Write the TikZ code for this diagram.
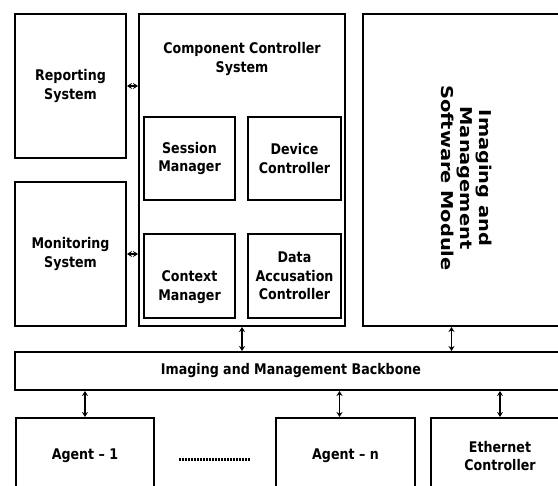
\documentclass[tikz,border=0pt]{standalone}
\usepackage{fontspec}
\setmainfont{DejaVu Sans}[FakeStretch=0.86]
\newfontfamily\rotfont{DejaVu Sans}[FakeStretch=1.19]
\usetikzlibrary{arrows.meta}

\begin{document}
\begin{tikzpicture}[x=1pt, y=-1pt, >={Stealth[length=5pt,width=6pt]},
	main/.style = {draw, line width=2pt, align=center, inner sep=0pt},
	lbl/.style = {align=center, inner sep=0pt},
	link/.style = {<->, line width=1.5pt},
	font=\fontsize{14.7}{18.3}\selectfont\bfseries]

		\path[use as bounding box, clip] (0,0) rectangle (558,486);

		\node[main, minimum width=111pt, minimum height=144pt] (rep) at (70.5,86) {Reporting\\System};
		\node[main, minimum width=111pt, minimum height=144pt] (mon) at (70.5,254) {Monitoring\\System};

		\node[main, minimum width=206pt, minimum height=312pt] (ccs) at (242,170) {};
		\node[lbl] (ccst) at (242,59) {Component Controller\\System};
		\node[main, minimum width=91pt, minimum height=83pt] (sm) at (189.5,158.5) {Session\\Manager};
		\node[main, minimum width=93pt, minimum height=83pt] (dc) at (294.5,158.5) {Device\\Controller};
		\node[main, minimum width=91pt, minimum height=84pt] (cm) at (189.5,276) {};
		\node[lbl] (cmt) at (189.5,287) {Context\\Manager};
		\node[main, minimum width=93pt, minimum height=84pt] (dac) at (294.5,276) {Data\\Accusation\\Controller};

		\node[main, minimum width=209pt, minimum height=312pt] (ims) at (467.5,170) {};
		\node[lbl, rotate=-90, font=\rotfont\fontsize{16.3}{19}\selectfont\bfseries] (imst) at (467,178) {Imaging and\\Management\\Software Module};

		\node[main, minimum width=552pt, minimum height=38pt] (bb) at (291,371) {Imaging and Management Backbone};

		\node[main, minimum width=138pt, minimum height=76pt] (a1) at (85,456) {Agent – 1};
		\node[main, minimum width=139pt, minimum height=76pt] (an) at (345.5,456) {Agent – n};
		\node[main, minimum width=138pt, minimum height=76pt] (eth) at (500,456) {Ethernet\\Controller};
		\coordinate (d1) at (179,460);
		\coordinate (d2) at (250,460);

		\draw[line width=3pt, dash pattern=on 2pt off 1pt] (d1) -- (d2);

		\draw[link] (rep.east) -- (rep.east -| ccs.west);
		\draw[link] (mon.east) -- (mon.east -| ccs.west);
		\draw[link] (ccs.south) -- (ccs.south |- bb.north);
		\draw[link] ([xshift=-16pt]ims.south) -- ([xshift=-16pt]ims.south |- bb.north);
		\draw[link] (a1.north |- bb.south) -- (a1.north);
		\draw[link] ([xshift=-6pt]an.north |- bb.south) -- ([xshift=-6pt]an.north);
		\draw[link] (eth.north |- bb.south) -- (eth.north);
	\end{tikzpicture}
\end{document}
